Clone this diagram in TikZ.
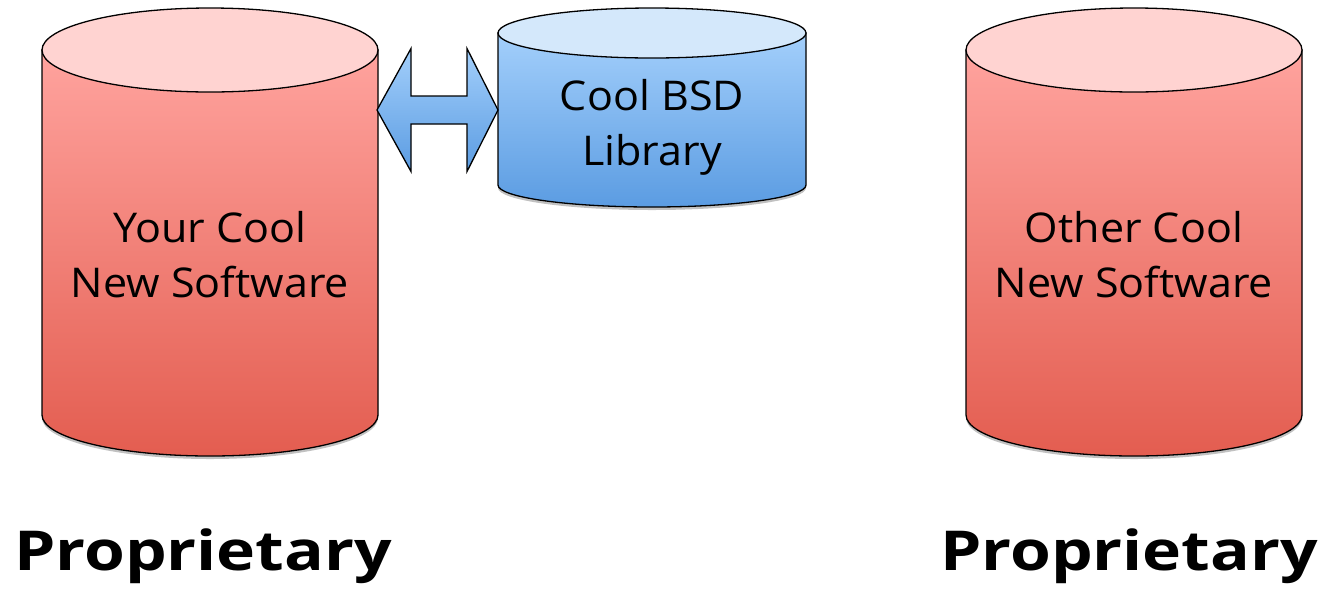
\documentclass[tikz,border=0pt]{standalone}
\usepackage{fontspec}
\setmainfont{Open Sans}
\usetikzlibrary{positioning,shadows}

\definecolor{redtop}{HTML}{FFD3D1}
\definecolor{redhi}{HTML}{FFA39E}
\definecolor{redlo}{HTML}{E35D50}
\definecolor{bluetop}{HTML}{D4E8FB}
\definecolor{bluehi}{HTML}{A3CFFB}
\definecolor{bluelo}{HTML}{5B9CE2}

\tikzset{
  body/.style={draw=black, line width=1.3pt},
  softshadow/.style={drop shadow={shadow xshift=0pt, shadow yshift=-3pt, opacity=.35, fill=black!70}},
  cyltext/.style={font=\fontsize{41}{55}\selectfont, align=center, inner sep=0pt, xscale=1.05},
  bigword/.style={font=\fontsize{55}{60}\selectfont\bfseries, inner sep=0pt, anchor=base, xscale=1.2}
}

\begin{document}
\begin{tikzpicture}[x=1pt,y=1pt]
  \useasboundingbox (0,0) rectangle (1321,-590);

  % left cylinder
  \path[body, softshadow, top color=redhi, bottom color=redlo] (42,-50) -- (42,-415)
    arc[start angle=180, end angle=360, x radius=168, y radius=41] -- (378,-50) -- cycle;
  \path[body, fill=redtop] (210,-50) ellipse[x radius=168, y radius=42];

  % right cylinder
  \path[body, softshadow, top color=redhi, bottom color=redlo] (966,-50) -- (966,-415)
    arc[start angle=180, end angle=360, x radius=168, y radius=41] -- (1302,-50) -- cycle;
  \path[body, fill=redtop] (1134,-50) ellipse[x radius=168, y radius=42];

  % library cylinder
  \path[body, softshadow, top color=bluehi, bottom color=bluelo] (498,-33) -- (498,-185)
    arc[start angle=180, end angle=360, x radius=154, y radius=22] -- (806,-33) -- cycle;
  \path[body, fill=bluetop] (652,-33) ellipse[x radius=154, y radius=25];

  \node[cyltext] (yours) at (210,-255) {Your Cool\\New Software};
  \node[cyltext] (other) at (1134,-255) {Other Cool\\New Software};
  \node[cyltext] (bsd) at (652,-127) {Cool BSD\\Library};

  \node[bigword] (propL) at (203,-570) {Proprietary};
  \node[bigword] (propR) at (1129,-570) {Proprietary};

  % double arrow
  \coordinate (yourEdge) at (377,-110);
  \coordinate (bsdEdge) at (498,-110);
  \path[body, top color=bluehi, bottom color=bluelo] (yourEdge) -- ++(34,61.5) -- ++(0,-47.5)
    -- ++(56,0) -- ++(0,47.5) -- (bsdEdge) -- ++(-31,-61.5) -- ++(0,47.5)
    -- ++(-56,0) -- ++(0,-47.5) -- cycle;
\end{tikzpicture}
\end{document}
